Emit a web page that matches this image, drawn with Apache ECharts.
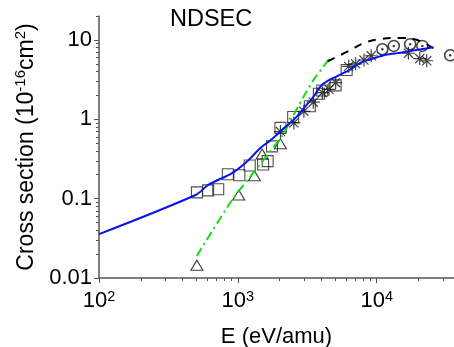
<!DOCTYPE html>
<html><head><meta charset="utf-8">
<script src="https://cdn.jsdelivr.net/npm/echarts@6/dist/echarts.min.js"></script>
<style>html,body{margin:0;padding:0;background:#fff}#c{width:454px;height:347px}</style>
</head><body><div id="c"></div>
<script>
// ---- axis ticks ----
const xMajor = [100, 1000, 10000];
const xMinor = [200, 300, 400, 500, 600, 700, 800, 900, 2000, 3000, 4000, 5000, 6000, 7000, 8000, 9000, 20000, 30000];
const yMajor = [0.01, 0.1, 1, 10];
const yMinor = [0.02, 0.03, 0.04, 0.05, 0.06, 0.07, 0.08, 0.09, 0.2, 0.3, 0.4, 0.5, 0.6, 0.7, 0.8, 0.9, 2, 3, 4, 5, 6, 7, 8, 9, 20];

// ---- experimental data ----
const squares = [[507, 0.12], [611, 0.127], [722, 0.131], [847, 0.203], [1025, 0.197], [1217, 0.262], [1520, 0.269], [1638, 0.297], [1762, 0.455], [2026, 0.778], [2502, 1.07], [3298, 1.46], [3830, 2.1], [4050, 2.3], [5055, 2.67], [6070, 4.17]];
const triangles = [[507, 0.0145], [1014, 0.111], [1315, 0.194], [1494, 0.365], [2026, 0.49]];
const stars = [[2026, 0.70], [2530, 0.90], [2987, 1.26], [3490, 1.64], [4056, 2.16], [4530, 2.38], [5060, 2.89], [6280, 4.64], [7050, 5.0], [8090, 5.58], [9120, 6.31], [16900, 6.79], [20400, 5.82], [22900, 5.46]];
const circles = [[10970, 7.62], [13270, 8.4], [17400, 8.82], [21300, 8.4], [33800, 6.4]];

// ---- theory curves ----
const blueLine = [[100, 0.0357], [500, 0.112], [612, 0.149], [908, 0.21], [1165, 0.294], [1452, 0.434], [1718, 0.545], [2026, 0.705], [2600, 1.04], [3070, 1.46], [3525, 1.95], [3944, 2.62], [4405, 3.03], [5200, 3.5], [6490, 4.26], [7650, 5.17], [9060, 5.7], [11600, 6.5], [14900, 6.9], [20800, 7.6], [25400, 8.1]];
const dashLine = [[4430, 5.37], [6490, 7.47], [8050, 9.08], [10330, 10.2], [14900, 10.6], [19100, 10.1], [25800, 7.8]];
const greenLine = [[507, 0.019], [908, 0.096], [1230, 0.19], [1535, 0.31], [1815, 0.45], [2085, 0.62], [2530, 1.15], [2987, 1.95], [3525, 3.18], [4160, 4.69], [4700, 6.2]];

const FONT = 'Liberation Sans, Arial, sans-serif';
const chart = echarts.init(document.getElementById('c'), null, {renderer: 'canvas'});
const axisCommonX = {type: 'log', logBase: 10, min: 100, max: 36000, position: 'bottom', splitLine: {show: false}};
const axisCommonY = {type: 'log', logBase: 10, min: 0.01, max: 20, position: 'left', splitLine: {show: false}};
const star = 'path://M10,0L10,20M0,10L20,10M3,3L17,17M3,17L17,3';

chart.setOption({
  animation: false,
  backgroundColor: '#fff',
  title: {text: 'NDSEC', left: 165, top: 3, textStyle: {fontFamily: FONT, fontSize: 23.5, fontWeight: 'normal', color: '#000'}},
  grid: {left: 99, right: 0, top: 16, bottom: 69, containLabel: false, outerBoundsMode: 'none'},
  xAxis: [
    Object.assign({}, axisCommonX, {
      name: 'E (eV/amu)', nameLocation: 'middle', nameGap: 48,
      nameTextStyle: {fontFamily: FONT, fontSize: 22, color: '#000'},
      axisLine: {show: true, lineStyle: {color: '#555', width: 1.5}},
      axisTick: {show: true, inside: false, length: 5, customValues: xMajor, lineStyle: {color: '#555', width: 1}},
      axisLabel: {customValues: xMajor, margin: 11,
        formatter: v => '{b|10}{s|' + Math.round(Math.log10(v)) + '}',
        rich: {b: {fontFamily: FONT, fontSize: 22, color: '#000', lineHeight: 24}, s: {fontFamily: FONT, fontSize: 14.5, color: '#000', verticalAlign: 'top', lineHeight: 12}}}
    }),
    Object.assign({}, axisCommonX, {
      axisLine: {show: false},
      axisTick: {show: true, inside: false, length: 3, customValues: xMinor, lineStyle: {color: '#555', width: 1}},
      axisLabel: {show: false}
    })
  ],
  yAxis: [
    Object.assign({}, axisCommonY, {
      name: '{a|Cross section (10}{s|-16}{a|cm}{s|2}{a|)}', nameLocation: 'middle', nameGap: 55, nameRotate: 90,
      nameTextStyle: {rich: {a: {fontFamily: FONT, fontSize: 23, color: '#000', lineHeight: 26}, s: {fontFamily: FONT, fontSize: 15, color: '#000', verticalAlign: 'top', lineHeight: 12}}},
      axisLine: {show: true, lineStyle: {color: '#555', width: 1.5}},
      axisTick: {show: true, inside: false, length: 5, customValues: yMajor, lineStyle: {color: '#555', width: 1}},
      axisLabel: {customValues: yMajor, margin: 7, fontFamily: FONT, fontSize: 22, color: '#000', formatter: v => String(v)}
    }),
    Object.assign({}, axisCommonY, {
      axisLine: {show: false},
      axisTick: {show: true, inside: false, length: 3, customValues: yMinor, lineStyle: {color: '#555', width: 1}},
      axisLabel: {show: false}
    })
  ],
  series: [
    {type: 'scatter', data: squares, symbol: 'rect', symbolSize: 11, itemStyle: {color: 'transparent', borderColor: '#222', borderWidth: 1.1}},
    {type: 'scatter', data: triangles, symbol: 'triangle', symbolSize: [12, 10], itemStyle: {color: 'transparent', borderColor: '#111', borderWidth: 1.1}},
    {type: 'scatter', data: stars, symbol: star, symbolSize: 13, itemStyle: {color: 'transparent', borderColor: '#111', borderWidth: 1.2}},
    {type: 'scatter', data: circles, symbol: 'circle', symbolSize: 11, itemStyle: {color: 'transparent', borderColor: '#111', borderWidth: 1.5}},
    {type: 'scatter', data: circles, symbol: 'circle', symbolSize: 2.5, itemStyle: {color: '#111'}},
    {type: 'line', data: greenLine, showSymbol: false, smooth: 0.3, lineStyle: {color: '#11dd11', width: 2, type: [9, 4, 2, 4]}},
    {type: 'line', data: dashLine, showSymbol: false, smooth: 0.4, lineStyle: {color: '#000', width: 2, type: [8, 7]}},
    {type: 'line', data: blueLine, showSymbol: false, smooth: 0.3, lineStyle: {color: '#0a14e6', width: 2}}
  ]
});
</script></body></html>
